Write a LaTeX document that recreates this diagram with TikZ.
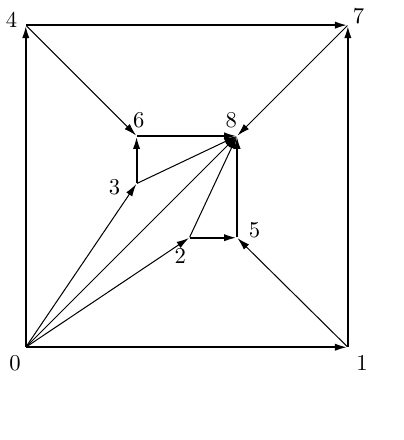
\documentclass[tikz,border=0pt]{standalone}
\usepackage{tikz}
\usetikzlibrary{arrows.meta}
\tikzset{
  vtx/.style={inner sep=0pt, minimum size=0pt},
  tip/.style={-{Latex[length=5.5pt,width=3.2pt]}},
  grueso/.style={tip, line width=0.9pt},
  fino/.style={tip, line width=0.45pt}
}
\begin{document}
\begin{tikzpicture}
  \useasboundingbox (-0.40,-1.44) rectangle (5.87,5.39);
  % Vertices del cuadrado exterior
  \node[vtx, label={[xshift=1.5pt]below left:$0$}]            (v0) at (0,0) {};
  \node[vtx, label={below right:$1$}]                         (v1) at (5,0) {};
  \node[vtx, label={[yshift=2.2pt]left:$4$}]                  (v4) at (0,5) {};
  \node[vtx, label={[xshift=-1.5pt,yshift=-3pt]above right:$7$}] (v7) at (5,5) {};

  % Vertices interiores
  \node[vtx, label={[xshift=1pt]above:$6$}]                 (v6) at (1.72,3.28) {};
  \node[vtx, label={[xshift=-2.5pt]above:$8$}]              (v8) at (3.28,3.28) {};
  \node[vtx, label={[xshift=-3.5pt,yshift=-1.8pt]left:$3$}] (v3) at (1.72,2.54) {};
  \node[vtx, label={[xshift=-4pt,yshift=-1pt]below:$2$}]    (v2) at (2.54,1.70) {};
  \node[vtx, label={[xshift=1.5pt,yshift=3.5pt]right:$5$}]  (v5) at (3.28,1.70) {};

  % Aristas gruesas
  \foreach \a/\b in {v0/v1, v0/v4, v4/v7, v1/v7, v3/v6, v6/v8, v2/v5, v5/v8}
    \draw[grueso] (\a) -- (\b);

  % Aristas finas
  \foreach \a/\b in {v4/v6, v7/v8, v1/v5, v0/v3, v0/v2, v0/v8, v3/v8, v2/v8}
    \draw[fino] (\a) -- (\b);
\end{tikzpicture}
\end{document}
